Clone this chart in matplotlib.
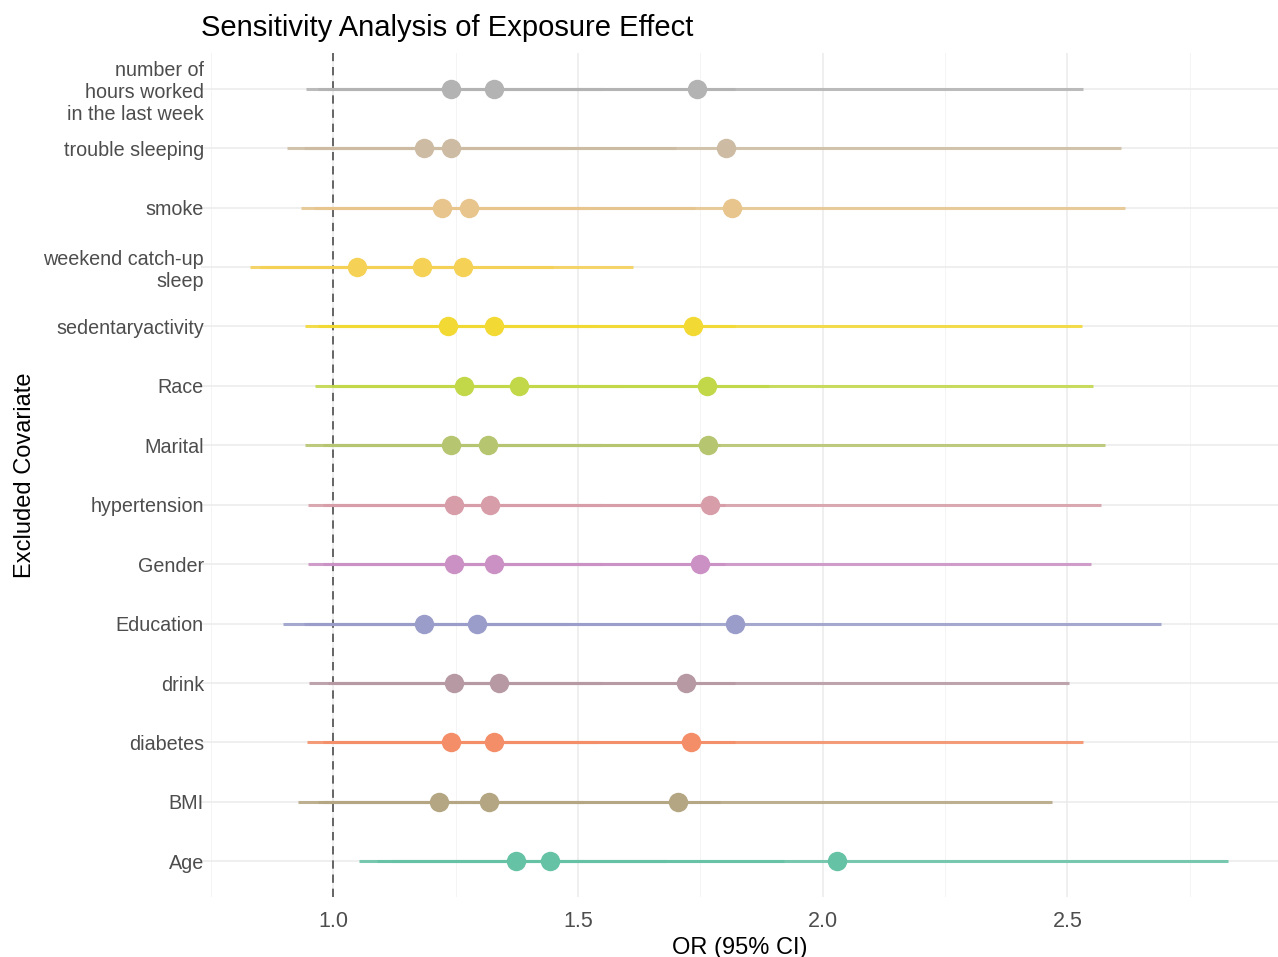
import numpy as np
import matplotlib
matplotlib.use("Agg")
import matplotlib.pyplot as plt
from matplotlib.colors import LinearSegmentedColormap

plt.rcParams["font.family"] = ["Liberation Sans", "DejaVu Sans"]

# ── data (bottom row first, like a ggplot factor) ─────────────────────────
covariates = [
    "Age", "BMI", "diabetes", "drink", "Education", "Gender", "hypertension",
    "Marital", "Race", "sedentaryactivity", "weekend catch-up\nsleep",
    "smoke", "trouble sleeping", "number of\nhours worked\nin the last week",
]

# three estimates per excluded covariate, each with its own 95% CI
or_1 = [1.373, 1.216, 1.241, 1.247, 1.186, 1.247, 1.247, 1.241, 1.267, 1.235, 1.049, 1.222, 1.186, 1.241]
lo_1 = [1.12, 0.98, 1.00, 1.00, 0.95, 1.00, 1.00, 0.99, 1.01, 0.99, 0.86, 0.98, 0.95, 0.99]
hi_1 = [1.68, 1.51, 1.54, 1.55, 1.48, 1.55, 1.55, 1.55, 1.59, 1.54, 1.28, 1.52, 1.48, 1.55]

or_2 = [1.443, 1.318, 1.329, 1.339, 1.294, 1.329, 1.320, 1.316, 1.380, 1.329, 1.182, 1.278, 1.241, 1.329]
lo_2 = [1.09, 0.97, 0.98, 0.99, 0.94, 0.98, 0.98, 0.98, 1.00, 0.97, 0.85, 0.96, 0.94, 0.97]
hi_2 = [1.92, 1.79, 1.82, 1.82, 1.75, 1.80, 1.80, 1.79, 1.89, 1.82, 1.45, 1.74, 1.70, 1.82]

or_3 = [2.029, 1.704, 1.731, 1.720, 1.820, 1.749, 1.769, 1.765, 1.763, 1.735, 1.265, 1.814, 1.802, 1.743]
lo_3 = [1.053, 0.929, 0.947, 0.951, 0.898, 0.949, 0.949, 0.943, 0.963, 0.943, 0.831, 0.935, 0.906, 0.945]
hi_3 = [2.827, 2.469, 2.531, 2.504, 2.690, 2.549, 2.569, 2.576, 2.553, 2.529, 1.612, 2.618, 2.610, 2.531]

x_ticks = [1.0, 1.5, 2.0, 2.5]
x_minor = [0.75, 1.25, 1.75, 2.25, 2.75]

# Set2 stretched over the rows (colorRampPalette style)
set2 = ["#66C2A5", "#FC8D62", "#8DA0CB", "#E78AC3",
        "#A6D854", "#FFD92F", "#E5C494", "#B3B3B3"]
cmap = LinearSegmentedColormap.from_list("set2ramp", set2)
colors = [cmap(i / (len(covariates) - 1)) for i in range(len(covariates))]

# ── plot ──────────────────────────────────────────────────────────────────
fig = plt.figure(figsize=(12.78, 9.57), dpi=100)
ax = fig.add_axes([201 / 1278, 1 - 897 / 957, 1 - 201 / 1278, (897 - 53) / 957])

ypos = np.arange(1, len(covariates) + 1)

for y, c, a in zip(ypos, colors, range(len(covariates))):
    for lo, hi in ((lo_3, hi_3), (lo_2, hi_2), (lo_1, hi_1)):
        ax.plot([lo[a], hi[a]], [y, y], color=c, lw=2.2, alpha=0.88,
                solid_capstyle="butt", zorder=3)
    for est in (or_1, or_2, or_3):
        ax.plot(est[a], y, "o", color=c, markersize=14, mec="none", zorder=4)

ax.axvline(1.0, color="#4d4d4d", lw=1.2, ls=(0, (5, 3.5)), zorder=2)

ax.set_xlim(0.73, 2.93)
ax.set_ylim(0.4, len(covariates) + 0.6)
ax.set_xticks(x_ticks)
ax.set_xticklabels([f"{v:.1f}" for v in x_ticks])
ax.set_xticks(x_minor, minor=True)
ax.set_yticks(ypos)

ax.grid(which="major", color="#EBEBEB", lw=1.1, zorder=0)
ax.grid(which="minor", axis="x", color="#F2F2F2", lw=0.6, zorder=0)
ax.set_axisbelow(True)
for s in ax.spines.values():
    s.set_visible(False)
ax.tick_params(which="both", length=0)
ax.tick_params(axis="y", labelcolor="#4D4D4D", pad=-2)
ax.tick_params(axis="x", labelsize=15.5, labelcolor="#4D4D4D", pad=10)
ax.set_yticklabels(covariates, fontsize=14.2, linespacing=1.22)

ax.set_xlabel("OR (95% CI)", fontsize=17, color="black", labelpad=4)
ax.set_ylabel("Excluded Covariate", fontsize=17, color="black", labelpad=5)

fig.text(201 / 1278, 1 - 36 / 957, "Sensitivity Analysis of Exposure Effect",
         fontsize=21, color="black", ha="left", va="baseline")

fig.savefig("out.png", dpi=100, facecolor="white")
